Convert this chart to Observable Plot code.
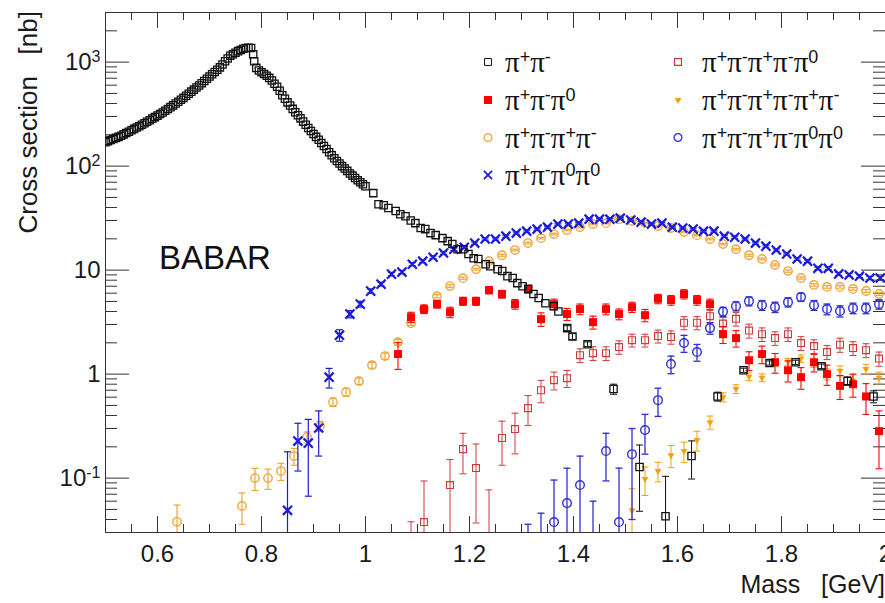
<!DOCTYPE html>
<html><head><meta charset="utf-8">
<script src="https://cdn.jsdelivr.net/npm/d3@7"></script>
<script src="https://cdn.jsdelivr.net/npm/@observablehq/plot@0.6"></script>
<style>
html,body{margin:0;padding:0;background:#fff;}
#chart{position:relative;width:885px;height:603px;overflow:hidden;}
</style></head><body><div id="chart"></div>
<script>
// ---------- DATA ----------
// pi+pi- : dense low-mass part
const pipiLowMass = [0.50,0.505,0.51,0.515,0.52,0.525,0.53,0.535,0.54,0.545,0.55,0.555,0.56,0.565,0.57,0.575,0.58,0.585,0.59,0.595,0.60,0.605,0.61,0.615,0.62,0.625,0.63,0.635,0.64,0.645,0.65,0.655,0.66,0.665,0.67,0.675,0.68,0.685,0.69,0.695,0.70,0.705,0.71,0.715,0.72,0.725,0.73,0.735,0.74,0.745,0.75,0.755,0.76,0.765,0.77,0.775,0.78,0.784,0.786,0.79,0.795,0.80,0.805,0.81,0.815,0.82,0.825,0.83,0.835,0.84,0.845,0.85,0.855,0.86,0.865,0.87,0.875,0.88,0.885,0.89,0.895,0.90,0.905,0.91,0.915,0.92,0.925,0.93,0.935,0.94,0.945,0.95,0.955,0.96,0.965,0.97,0.975,0.98,0.985,0.99,0.995,1.00];
const pipiLowXs   = [170,174,178,182,187,191,196,202,208,214,221,228,235,242,250,258,267,276,286,296,306,317,328,341,354,369,384,400,416,434,453,474,497,520,544,570,597,627,658,692,727,765,803,846,890,950,1020,1085,1150,1190,1230,1275,1310,1345,1365,1375,1365,1190,1020,880,830,800,770,740,705,665,620,580,530,480,445,410,382,355,330,308,288,268,250,233,218,204,191,179,167,156,146,136,127,119,112,106,100,95,90,85,81,77,73,70,67,64];
// pi+pi- : sparser part above 1 GeV
const pipiMass = [1.015,1.025,1.035,1.044,1.058,1.067,1.077,1.087,1.096,1.106,1.115,1.125,1.135,1.148,1.158,1.167,1.177,1.188,1.198,1.208,1.217,1.231,1.24,1.254,1.263,1.273,1.283,1.292,1.302,1.313,1.323,1.333,1.346,1.362,1.371,1.388,1.398,1.427,1.477,1.527,1.577,1.627,1.677,1.727,1.777,1.827,1.877,1.927,1.977];
const pipiXs   = [55,43,42,39.5,37,34.5,33,30,28.3,25.4,24.8,22.7,21.7,20.3,19.0,17.8,15.9,15.9,14.3,13.0,12.8,11.4,10.9,10.2,9.8,8.75,8.4,7.5,7.0,6.6,5.9,5.4,4.8,4.5,4.0,2.77,2.3,1.94,0.72,0.128,0.043,0.163,0.61,1.09,1.28,1.30,1.19,0.86,0.61];
const pipiErr  = [0,0,0,0,0,0,0,0,0,0,0,0,0,0,0,0,0,0,0,0,0,0,0,0,0,0,0,0,0,0,0,0,0,0,0,0.15,0.15,0.1,0.08,0.08,0.061,0.065,0.06,0.05,0.06,0.06,0.06,0.08,0.08];

// pi+pi-pi0
const pi3Mass = [1.0625,1.0875,1.1125,1.1375,1.1625,1.1875,1.2125,1.2375,1.2625,1.2875,1.3125,1.3375,1.3625,1.3875,1.4125,1.4375,1.4625,1.4875,1.5125,1.5375,1.5625,1.5875,1.6125,1.6375,1.6625,1.6875,1.7125,1.7375,1.7625,1.7875,1.8125,1.8375,1.8625,1.8875,1.9125,1.9375,1.9625,1.9875];
const pi3Xs   = [1.56,3.53,4.22,4.71,3.94,5.03,5.03,6.42,5.88,4.71,6.56,3.38,4.71,3.78,4.22,3.16,4.22,3.78,4.41,3.69,5.3,5.15,5.88,5.15,4.71,2.42,2.22,1.36,1.56,1.30,1.09,0.935,1.30,1.0,0.77,0.80,0.61,0.283];
const pi3Err  = [0.45,0.4,0.4,0.4,0.45,0.45,0.45,0.5,0.5,0.5,0.55,0.5,0.55,0.5,0.5,0.45,0.5,0.45,0.5,0.5,0.55,0.55,0.6,0.55,0.55,0.45,0.4,0.28,0.3,0.28,0.25,0.22,0.25,0.22,0.2,0.2,0.2,0.16];

// pi+pi-pi+pi-
const pi4cMass = [0.6375,0.7625,0.7875,0.8125,0.8375,0.8625,0.8875,0.9125,0.9375,0.9625,0.9875,1.0125,1.0375,1.0625,1.0875,1.1125,1.1375,1.1625,1.1875,1.2125,1.2375,1.2625,1.2875,1.3125,1.3375,1.3625,1.3875,1.4125,1.4375,1.4625,1.4875,1.5125,1.5375,1.5625,1.5875,1.6125,1.6375,1.6625,1.6875,1.7125,1.7375,1.7625,1.7875,1.8125,1.8375,1.8625,1.8875,1.9125,1.9375,1.9625,1.9875];
const pi4cXs   = [0.038,0.054,0.100,0.100,0.117,0.163,0.248,0.316,0.538,0.671,0.857,1.22,1.49,2.03,3.09,4.22,5.62,7.02,8.37,10.2,12.2,13.9,15.6,18.2,20.3,22.2,24.3,25.9,27.7,28.3,30.9,29.6,28.3,26.5,25.4,23.2,21.7,19.9,17.8,15.9,13.9,12.8,11.2,9.8,8.4,7.2,6.9,6.9,6.6,6.3,5.9];
const pi4cErr  = [0.017,0.018,0.024,0.022,0.022,0.03,0.03,0.035,0.05,0.06,0.06,0.08,0.1,0.12,0.15,0.15,0.2,0.2,0.2,0.2,0.25,0.3,0.3,0.35,0.35,0.4,0.4,0.4,0.4,0.4,0.45,0.45,0.4,0.4,0.4,0.35,0.35,0.35,0.3,0.3,0.3,0.25,0.25,0.25,0.2,0.2,0.2,0.2,0.2,0.2,0.2];

// pi+pi-pi0pi0
const pi4nMass = [0.85,0.87,0.89,0.91,0.93,0.95,0.97,0.99,1.01,1.03,1.05,1.07,1.09,1.11,1.13,1.15,1.17,1.19,1.21,1.23,1.25,1.27,1.29,1.31,1.33,1.35,1.37,1.39,1.41,1.43,1.45,1.47,1.49,1.51,1.53,1.55,1.57,1.59,1.61,1.63,1.65,1.67,1.69,1.71,1.73,1.75,1.77,1.79,1.81,1.83,1.85,1.87,1.89,1.91,1.93,1.95,1.97,1.99];
const pi4nXs   = [0.049,0.227,0.217,0.303,0.935,2.37,3.78,4.71,6.28,7.33,9.15,9.57,11.4,12.2,13.3,14.6,15.9,16.6,18.2,19.9,19.9,21.2,22.7,23.7,24.8,25.9,27.7,27.7,28.3,30.9,30.9,30.9,31.6,30.3,28.9,27.7,28.3,25.9,25.4,24.8,23.7,23.7,21.2,20.7,19.9,18.2,17.0,15.6,14.3,12.8,12.2,10.4,10.4,9.2,9.0,8.75,8.4,8.4];
const pi4nErr  = [0.13,0.11,0.15,0.14,0.2,0.3,0.3,0.3,0.3,0.3,0.35,0.35,0.4,0.4,0.4,0.45,0.45,0.45,0.5,0.5,0.5,0.5,0.55,0.55,0.55,0.6,0.6,0.6,0.6,0.65,0.65,0.65,0.65,0.65,0.6,0.6,0.6,0.55,0.55,0.55,0.5,0.5,0.5,0.5,0.45,0.45,0.4,0.4,0.35,0.35,0.35,0.3,0.3,0.3,0.3,0.3,0.3,0.3];

// pi+pi-pi+pi-pi0
const pi5Mass = [1.0875,1.1125,1.1625,1.1875,1.2125,1.2375,1.2625,1.2875,1.3125,1.3375,1.3625,1.3875,1.4125,1.4375,1.4625,1.4875,1.5125,1.5375,1.5625,1.5875,1.6125,1.6375,1.6625,1.6875,1.7125,1.7375,1.7625,1.7875,1.8125,1.8375,1.8625,1.8875,1.9125,1.9375,1.9625,1.9875];
const pi5Xs   = [0.012,0.0378,0.0858,0.19,0.125,0.02,0.243,0.296,0.471,0.70,0.875,0.915,1.52,1.59,1.59,1.82,2.12,2.12,2.32,2.27,3.12,3.12,3.61,3.06,3.4,2.62,2.42,2.22,2.42,1.99,1.86,1.63,1.92,1.78,1.70,1.41];
const pi5Err  = [0.026,0.056,0.065,0.08,0.088,0.057,0.11,0.125,0.15,0.17,0.17,0.17,0.23,0.24,0.24,0.27,0.3,0.3,0.33,0.33,0.45,0.45,0.5,0.45,0.5,0.4,0.36,0.33,0.36,0.3,0.28,0.25,0.3,0.27,0.26,0.22];

// pi+pi-pi+pi-pi+pi-
const pi6cMass = [1.5125,1.5375,1.5625,1.5875,1.6125,1.6375,1.6625,1.6875,1.7125,1.7375,1.7625,1.7875,1.8125,1.8375,1.8625,1.8875,1.9125,1.9375,1.9625,1.9875];
const pi6cXs   = [0.049,0.098,0.117,0.166,0.182,0.232,0.345,0.60,0.72,0.946,0.925,1.29,1.32,1.41,1.28,1.0,1.08,0.865,1.12,0.925];
const pi6cErr  = [0.03,0.03,0.025,0.04,0.04,0.05,0.05,0.06,0.07,0.08,0.08,0.1,0.1,0.12,0.12,0.12,0.12,0.12,0.12,0.12];

// pi+pi-pi+pi-pi0pi0
const pi6nMass = [1.3125,1.3375,1.3625,1.3875,1.4125,1.4375,1.4625,1.4875,1.5125,1.5375,1.5625,1.5875,1.6125,1.6375,1.6625,1.6875,1.7125,1.7375,1.7625,1.7875,1.8125,1.8375,1.8625,1.8875,1.9125,1.9375,1.9625,1.9875];
const pi6nXs   = [0.015,0.02,0.0378,0.0575,0.0858,0.02,0.182,0.0378,0.17,0.29,0.562,1.25,1.99,1.63,2.77,3.99,4.5,5.03,4.6,4.41,4.92,5.5,4.6,4.22,4.04,4.31,4.31,4.71];
const pi6nErr  = [0.021,0.026,0.058,0.067,0.077,0.04,0.088,0.087,0.13,0.12,0.17,0.24,0.37,0.3,0.35,0.4,0.45,0.5,0.5,0.5,0.5,0.5,0.5,0.5,0.5,0.5,0.5,0.5];

// axis ticks and labels
const xMajor = [0.6,0.8,1.0,1.2,1.4,1.6,1.8,2.0];
const xMinor = [0.55,0.65,0.7,0.75,0.85,0.9,0.95,1.05,1.1,1.15,1.25,1.3,1.35,1.45,1.5,1.55,1.65,1.7,1.75,1.85,1.9,1.95];
const yMajor = [0.1,1,10,100,1000];
const yMajorLabels = ["10^-1","1","10","10^2","10^3"];
const yMinor = [0.04,0.05,0.06,0.07,0.08,0.09,0.2,0.3,0.4,0.5,0.6,0.7,0.8,0.9,2,3,4,5,6,7,8,9,20,30,40,50,60,70,80,90,200,300,400,500,600,700,800,900,2000];

// legend
const legendSups = [["+","-"],["+","-","0"],["+","-","+","-"],["+","-","0","0"],["+","-","+","-","0"],["+","-","+","-","+","-"],["+","-","+","-","0","0"]];

// ---------- BUILD ----------
const rows = (m, v, e) => m.map((x, i) => ({x, y: v[i], e: e ? e[i] : 0}));
const pipi = rows(pipiLowMass, pipiLowXs).concat(rows(pipiMass, pipiXs, pipiErr));
const pi3 = rows(pi3Mass, pi3Xs, pi3Err);
const pi4c = rows(pi4cMass, pi4cXs, pi4cErr);
const pi4n = rows(pi4nMass, pi4nXs, pi4nErr);
const pi5 = rows(pi5Mass, pi5Xs, pi5Err);
const pi6c = rows(pi6cMass, pi6cXs, pi6cErr);
const pi6n = rows(pi6nMass, pi6nXs, pi6nErr);

const capSym = {draw(ctx) { ctx.moveTo(-3.5, 0); ctx.lineTo(3.5, 0); }};
function errMarks(data, color, width = 1) {
  const eb = data.filter(d => d.e > 0);
  const caps = eb.flatMap(d => [{x: d.x, y: d.y + d.e}].concat(d.y - d.e > 0 ? [{x: d.x, y: d.y - d.e}] : []));
  return [
    Plot.ruleX(eb, {x: "x", y1: d => Math.max(d.y - d.e, 1e-4), y2: d => d.y + d.e, stroke: color, strokeWidth: width, clip: true}),
    Plot.dot(caps, {x: "x", y: "y", symbol: capSym, stroke: color, fill: "none", strokeWidth: width, clip: true})
  ];
}

const C = {
  pipi: "#111111", pi3: "#ff0000", pi4c: "#f0a53a", pi4n: "#1c1cd8",
  pi5: "#cc3b3b", pi6c: "#f4a10a", pi6n: "#2f2fd0"
};
const AX = "#333";
const FW = 780, FH = 520;

const chart = Plot.plot({
  width: 885, height: 603,
  marginLeft: 105, marginRight: 0, marginTop: 12, marginBottom: 71,
  style: {fontFamily: "'Liberation Sans', Arial, sans-serif", fontSize: "24px", background: "white", color: "#1a1a1a"},
  x: {domain: [0.5, 2.0]},
  y: {type: "log", domain: [0.03, 3000]},
  marks: [
    // tick marks (inside the frame on all sides)
    Plot.ruleX(xMajor, {stroke: AX, insetTop: FH - 16}),
    Plot.ruleX(xMajor, {stroke: AX, insetBottom: FH - 16}),
    Plot.ruleX(xMinor, {stroke: AX, insetTop: FH - 8}),
    Plot.ruleX(xMinor, {stroke: AX, insetBottom: FH - 8}),
    Plot.ruleY(yMajor, {stroke: AX, insetRight: FW - 24}),
    Plot.ruleY(yMajor, {stroke: AX, insetLeft: FW - 24}),
    Plot.ruleY(yMinor, {stroke: AX, insetRight: FW - 12}),
    Plot.ruleY(yMinor, {stroke: AX, insetLeft: FW - 12}),
    Plot.axisX({ticks: xMajor, tickSize: 0, tickPadding: 12, tickFormat: d => String(+d.toFixed(1)), label: null}),
    Plot.axisY({ticks: yMajor, tickSize: 0, tickPadding: 5, tickFormat: d => yMajorLabels[yMajor.indexOf(d)], label: null}),
    Plot.frame({stroke: AX}),

    // pi+pi-pi+pi-pi0 (open dark-red squares)
    ...errMarks(pi5, C.pi5),
    Plot.dot(pi5, {x: "x", y: "y", symbol: "square", r: 3.9, stroke: C.pi5, fill: "none", strokeWidth: 1.1, clip: true}),
    // 6pi charged (orange triangles down)
    ...errMarks(pi6c, C.pi6c),
    Plot.dot(pi6c, {x: "x", y: "y", symbol: "triangle2", r: 3.3, rotate: 180, fill: C.pi6c, clip: true}),
    // pi+pi-pi+pi-pi0pi0 (open blue circles)
    ...errMarks(pi6n, C.pi6n, 1.3),
    Plot.dot(pi6n, {x: "x", y: "y", r: 4.3, stroke: C.pi6n, fill: "none", strokeWidth: 1.4, clip: true}),
    // pi+pi-pi+pi- (open orange circles)
    ...errMarks(pi4c, C.pi4c, 1.2),
    Plot.dot(pi4c, {x: "x", y: "y", r: 4.2, stroke: C.pi4c, fill: "none", strokeWidth: 1.4, clip: true}),
    // pi+pi-pi0pi0 (blue crosses)
    ...errMarks(pi4n, C.pi4n, 1.2),
    Plot.dot(pi4n, {x: "x", y: "y", symbol: "times", r: 4.2, stroke: C.pi4n, strokeWidth: 2.2, clip: true}),
    // pi+pi-pi0 (red filled squares)
    ...errMarks(pi3, C.pi3, 1.1),
    Plot.dot(pi3, {x: "x", y: "y", symbol: "square", r: 4.5, fill: C.pi3, clip: true}),
    // pi+pi- (open black squares)
    ...errMarks(pipi, C.pipi),
    Plot.dot(pipi, {x: "x", y: "y", symbol: "square", r: 4.1, stroke: C.pipi, fill: "none", strokeWidth: 1.3, clip: true})
  ]
});
document.getElementById("chart").appendChild(chart);

const svg = d3.select(chart);
// superscripts in y tick labels
svg.selectAll("text").each(function () {
  const t = this.textContent;
  if (t.includes("^")) {
    const [b, e] = t.split("^");
    const s = d3.select(this);
    s.text(null);
    s.append("tspan").text(b);
    s.append("tspan").attr("dy", "-0.5em").attr("font-size", "16px").text(e);
  }
});

const sans = "'Liberation Sans', Arial, sans-serif";
// axis titles
svg.append("text").attr("x", 885).attr("y", 593).attr("text-anchor", "end")
  .attr("font-family", sans).attr("font-size", 25).attr("fill", "#1a1a1a")
  .text("Mass\u00a0\u00a0\u00a0[GeV]");
svg.append("text").attr("transform", "translate(37,11) rotate(-90)").attr("text-anchor", "end")
  .attr("font-family", sans).attr("font-size", 26).attr("fill", "#1a1a1a")
  .text("Cross section\u00a0\u00a0\u00a0[nb]");
// experiment label
svg.append("text").attr("x", 159).attr("y", 269).attr("text-anchor", "start")
  .attr("font-family", sans).attr("font-size", 33).attr("fill", "#111").text("BABAR");

// legend
const legendMarkers = [
  {type: d3.symbolSquare, r: 3.9, stroke: C.pipi, fill: "none", sw: 1},
  {type: d3.symbolSquare, r: 4.5, stroke: "none", fill: C.pi3, sw: 0},
  {type: d3.symbolCircle, r: 3.9, stroke: C.pi4c, fill: "none", sw: 1.3},
  {type: d3.symbolTimes, r: 3.8, stroke: C.pi4n, fill: "none", sw: 1.8},
  {type: d3.symbolSquare, r: 3.9, stroke: C.pi5, fill: "none", sw: 1.2},
  {type: d3.symbolTriangle2, r: 3.3, stroke: "none", fill: C.pi6c, sw: 0, rot: 180},
  {type: d3.symbolCircle, r: 3.9, stroke: C.pi6n, fill: "none", sw: 1.3}
];
const markX = [488, 678], textX = [505, 702], rowY = [62, 100, 137.5, 175];
const lg = svg.append("g").attr("text-anchor", "start");
legendSups.forEach((sups, i) => {
  const col = i < 4 ? 0 : 1, row = i < 4 ? i : i - 4;
  const m = legendMarkers[i];
  const cy = rowY[row];
  lg.append("path")
    .attr("d", d3.symbol().type(m.type).size(Math.PI * m.r * m.r)())
    .attr("transform", `translate(${markX[col]},${cy})` + (m.rot ? ` rotate(${m.rot})` : ""))
    .attr("fill", m.fill).attr("stroke", m.stroke).attr("stroke-width", m.sw);
  const t = lg.append("text").attr("x", textX[col]).attr("y", cy + 10).attr("text-anchor", "start").attr("fill", "#111");
  sups.forEach((s, k) => {
    t.append("tspan").attr("font-family", "'Liberation Serif', 'Times New Roman', serif").attr("font-size", 29)
      .attr("dy", k === 0 ? 0 : 9).text("\u03c0");
    t.append("tspan").attr("font-family", sans).attr("font-size", 18).attr("dy", -9).text(s);
  });
});
</script>
</body></html>
